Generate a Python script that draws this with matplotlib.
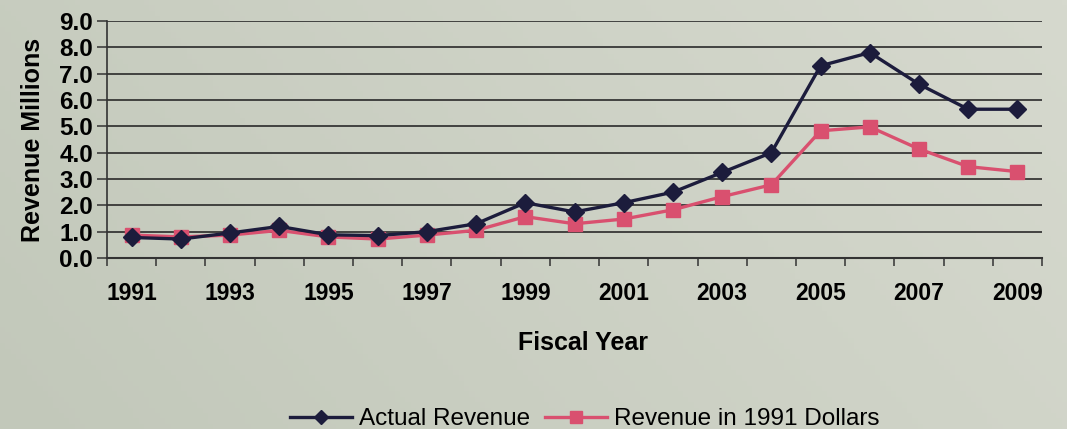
import numpy as np
import matplotlib
matplotlib.use("Agg")
import matplotlib.pyplot as plt

plt.rcParams["font.family"] = ["Liberation Sans", "DejaVu Sans"]

years = [str(y) for y in range(1991, 2010)]
actual = [0.78, 0.72, 0.95, 1.2, 0.88, 0.85, 1.0, 1.3, 2.1, 1.75, 2.1, 2.5,
          3.25, 4.0, 7.3, 7.8, 6.6, 5.65, 5.65]
real_1991 = [0.87, 0.8, 0.87, 1.05, 0.8, 0.72, 0.87, 1.05, 1.57, 1.3, 1.48,
             1.83, 2.33, 2.78, 4.83, 4.98, 4.14, 3.47, 3.28]
y_ticks = [0, 1, 2, 3, 4, 5, 6, 7, 8, 9]

navy = "#1c1c3c"
rose = "#d9506f"

fig = plt.figure(figsize=(10.67, 4.29), dpi=100)

# scanned-paper style backdrop, slightly darker on the left
bg = fig.add_axes([0, 0, 1, 1], zorder=-10)
xx = np.linspace(0, 1, 200)
yy = np.linspace(0, 1, 80)
X, Y = np.meshgrid(xx, yy)
c0 = np.array([194, 200, 186]) / 255.0
c1 = np.array([214, 217, 206]) / 255.0
t = (0.75 * X + 0.25 * (1 - Y))[..., None]
bg.imshow(c0 * (1 - t) + c1 * t, aspect="auto", extent=[0, 1, 0, 1])
bg.axis("off")

ax = fig.add_axes([0.1003, 0.3986, 0.8763, 0.5524])
ax.patch.set_alpha(0)

x = np.arange(len(years))
ax.plot(x, actual, color=navy, lw=2.4, marker="D", ms=9.5, mfc=navy, mec=navy,
        label="Actual Revenue", zorder=4)
ax.plot(x, real_1991, color=rose, lw=2.4, marker="s", ms=10, mfc=rose, mec=rose,
        label="Revenue in 1991 Dollars", zorder=3)

ax.set_xlim(-0.5, len(years) - 0.5)
ax.set_ylim(0, 9)
ax.set_yticks(y_ticks)
ax.set_yticklabels([f"{v:.1f}" for v in y_ticks])
ax.yaxis.grid(True, color="#2a2a2a", lw=1.2)
ax.set_axisbelow(True)

# year labels on every other category, tick marks between categories
ax.set_xticks(x[::2])
ax.set_xticklabels(years[::2])
ax.set_xticks(np.arange(-0.5, len(years)), minor=True)
ax.tick_params(axis="x", which="major", length=0, pad=17, labelsize=16.5)
ax.tick_params(axis="x", which="minor", length=6, width=1.1, color="#333333",
               direction="out")
ax.tick_params(axis="y", length=7, width=1.1, color="#333333", labelsize=17.5,
               pad=3)
for lab in ax.get_xticklabels() + ax.get_yticklabels():
    lab.set_fontweight("bold")

for s in ["top", "right"]:
    ax.spines[s].set_visible(False)
ax.spines["left"].set_color("#333333")
ax.spines["bottom"].set_color("#333333")
ax.spines["left"].set_linewidth(1.2)
ax.spines["bottom"].set_linewidth(1.5)

ax.set_ylabel("Revenue Millions", fontsize=18, fontweight="bold", labelpad=10)
ax.set_xlabel("Fiscal Year", fontsize=18, fontweight="bold")
ax.xaxis.set_label_coords(0.509, -0.31)

ax.legend(loc="center", bbox_to_anchor=(0.511, -0.68), ncol=2, frameon=False,
          fontsize=17.5, handlelength=2.55, columnspacing=0.58,
          handletextpad=0.3, markerscale=0.8)

fig.savefig("out.png", dpi=100)
